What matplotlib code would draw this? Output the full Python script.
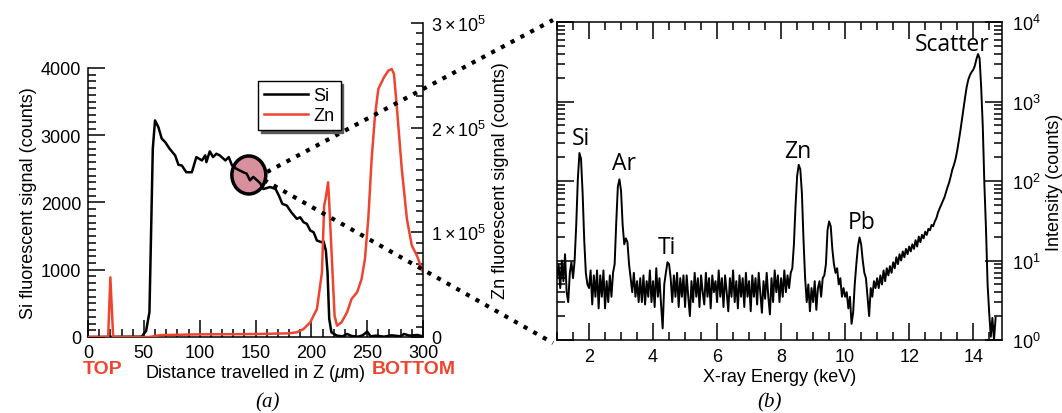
import numpy as np
import matplotlib
matplotlib.use('Agg')
import matplotlib.pyplot as plt
from matplotlib.patches import Ellipse
from matplotlib.lines import Line2D
from matplotlib.ticker import MultipleLocator, LogLocator, NullFormatter

plt.rcParams['font.family'] = ['Liberation Sans', 'DejaVu Sans']
plt.rcParams['mathtext.fontset'] = 'custom'
plt.rcParams['mathtext.rm'] = 'Liberation Sans'
plt.rcParams['mathtext.it'] = 'Liberation Sans:italic'

RED = '#ee4430'
FS = 13

# ---- (a) depth profile: Si (left axis) and Zn (right axis) ----
si_z = [0, 48, 52, 55, 58, 60, 63, 66, 69, 73,
        78, 81, 84, 88, 93, 97, 102, 105, 106, 109,
        112, 115, 118, 123, 126, 129, 133, 139, 142, 145,
        148, 154, 157, 163, 168, 171, 174, 178, 182, 187,
        190, 193, 196, 199, 202, 205, 209, 211, 213, 214.5,
        216, 218, 223, 228, 232, 236, 242, 246, 250, 253,
        258, 265, 272, 280, 283, 288, 295, 300]
si_counts = [0, 5, 90, 370, 2800, 3220, 3120, 2950, 2900, 2800,
             2700, 2560, 2550, 2450, 2450, 2675, 2625, 2700, 2600, 2760,
             2675, 2725, 2700, 2625, 2675, 2550, 2500, 2450, 2430, 2330,
             2380, 2290, 2200, 2230, 2200, 2100, 1980, 1955, 1855, 1757,
             1780, 1707, 1682, 1583, 1558, 1434, 1410, 1420, 1285, 960,
             270, 70, 20, 10, 45, 15, 5, 25, 80, 10,
             20, 5, 25, 10, 45, 20, 30, 10]

zn_z = [0, 18, 20, 22.5, 25, 55, 65, 100, 150, 180,
        187, 193, 199, 205, 209.5, 211.5, 213, 215, 216, 218.4,
        220.8, 223, 227, 232, 236, 241, 245, 248, 251, 254,
        257, 260, 265, 269, 272, 274, 276.7, 281, 285.6, 290,
        294.6, 300]
zn_counts = [0, 0, 57000, 0, 0, 0, 1800, 2500, 2800, 3500,
             4500, 7600, 14000, 26750, 61800, 125500, 133500, 147800, 128700, 74500,
             20400, 10800, 14000, 23600, 36300, 42700, 55400, 74500, 112700, 170000,
             211500, 237000, 248000, 254500, 256000, 251300, 218000, 160500, 112700, 87300,
             77700, 61800]

zn_ticks = [0, 1e5, 2e5, 3e5]
zn_tick_labels = ['0', r'$1\times10^5$', r'$2\times10^5$', r'$3\times10^5$']

# ---- (b) X-ray spectrum, channels of 0.05 keV starting at 1.00 keV ----
channel_start = 1.0
channel_step = 0.05
spectrum_counts = [
    6, 9, 4.5, 10, 5.5, 12, 4, 3, 7, 9.5, 6, 10, 28, 105, 225, 190, 70, 18, 7, 5,       # 1.00-1.95
    4.5, 7.5, 2.8, 6.5, 3.5, 7.5, 2.5, 6.5, 3.5, 7.5, 2.5, 5.5, 3, 6.5, 3.5, 7, 9, 30, 85, 105,  # 2.00-2.95
    75, 28, 16, 19, 17, 9, 6, 4, 7, 3.5, 5.5, 3, 6, 3, 6.5, 2.8, 5.5, 3.5, 7.5, 3,     # 3.00-3.95
    5.5, 2.6, 8, 3.5, 6, 2.8, 1.4, 5, 7, 9.5, 9, 6, 3, 6.5, 3.5, 7, 2.6, 6, 3.5, 6.5,  # 4.00-4.95
    2.6, 6.5, 3.5, 2.0, 5.5, 3, 7, 3.5, 6, 2.6, 6.5, 4, 2.8, 7, 3.5, 6, 2.5, 6.5, 4, 5.5,  # 5.00-5.95
    3, 7.5, 3.5, 6, 2.6, 6.5, 4, 2.3, 6, 3.5, 7.5, 3, 5.5, 2.5, 6.5, 3.5, 6, 2.6, 7, 3.5,  # 6.00-6.95
    5.5, 2.3, 6.5, 3.5, 6, 2.8, 7, 4, 2.2, 5.5, 3.3, 7, 3.5, 2.1, 6, 3, 7.5, 4, 6.5, 3,    # 7.00-7.95
    6, 3.5, 7.5, 4, 6.5, 4.5, 7, 8, 16, 48, 115, 160, 140, 70, 18, 6, 3, 5, 2.3, 4.5,     # 8.00-8.95
    3, 5.5, 2.4, 4.5, 5.5, 3.5, 6, 6.5, 9, 24, 31, 27, 14, 9, 7, 8, 5, 6, 3.5, 4.5,       # 9.00-9.95
    3.5, 4, 2.5, 3.5, 1.6, 2.2, 5, 9, 15, 19.5, 16, 10, 7, 6, 3.5, 2, 4.5, 3.5, 5.5, 4.5,  # 10.00-10.95
    6, 4.5, 6.5, 5, 7.5, 5.5, 8, 6.5, 8.5, 7, 9.5, 8, 11, 9, 12, 10, 13, 11, 14, 12,  # 11.00-11.95
    15, 13, 16, 14, 18, 15, 20, 17, 21, 19, 23, 21, 25, 24, 28, 27, 31, 34, 40, 45,   # 12.00-12.95
    50, 56, 62, 72, 84, 96, 115, 140, 160, 190, 240, 320, 430, 600, 850, 1150, 1550, 1900, 2150, 2350,  # 13.00-13.95
    2500, 2800, 3400, 3950, 3500, 1500, 480, 90, 25, 5, 2.2, 1.1, 1.9, 1.0, 1.9,      # 14.00-14.70
]
energy_kev = channel_start + channel_step * np.arange(len(spectrum_counts))

peak_labels = ['Si', 'Ar', 'Ti', 'Zn', 'Pb', 'Scatter']
peak_label_kev = [1.76, 3.10, 4.43, 8.52, 10.52, 13.33]
peak_label_counts = [350, 167, 14.7, 240, 30.7, 5300]

fig = plt.figure(figsize=(10.62, 4.14), dpi=100)

# left panel
ax1 = fig.add_axes([0.0829, 0.1836, 0.3154, 0.6498])
ax2 = fig.add_axes([0.0829, 0.1836, 0.3154, 0.7585])
ax2.patch.set_visible(False)

l_si, = ax1.plot(si_z, si_counts, color='black', lw=1.8, zorder=4)
ax1.add_patch(Ellipse((144, 2409), 30.4, 565, facecolor='#d8919c', edgecolor='black',
                      lw=2.5, zorder=3, clip_on=False))
ax1.set_xlim(0, 300)
ax1.set_ylim(0, 4000)
ax1.xaxis.set_major_locator(MultipleLocator(50))
ax1.xaxis.set_minor_locator(MultipleLocator(10))
ax1.yaxis.set_major_locator(MultipleLocator(1000))
ax1.yaxis.set_minor_locator(MultipleLocator(100))
ax1.tick_params(which='both', direction='in', top=False, right=False, labelsize=FS, width=1.1, pad=5)
ax1.tick_params(which='major', length=12)
ax1.tick_params(which='minor', length=6)
ax1.spines['top'].set_visible(False)
ax1.spines['right'].set_visible(False)
for s in ('left', 'bottom'):
    ax1.spines[s].set_linewidth(1.1)
ax1.set_ylabel('Si fluorescent signal (counts)', fontsize=FS, labelpad=3)
ax1.set_xlabel(r'Distance travelled in Z ($\mu$m)', fontsize=FS, labelpad=1)

l_zn, = ax2.plot(zn_z, zn_counts, color=RED, lw=1.8)
ax2.set_xlim(0, 300)
ax2.set_ylim(0, 3e5)
ax2.set_yticks(zn_ticks, zn_tick_labels)
ax2.yaxis.set_minor_locator(MultipleLocator(1e4))
ax2.yaxis.tick_right()
ax2.yaxis.set_label_position('right')
ax2.tick_params(axis='x', bottom=False, labelbottom=False, which='both')
ax2.tick_params(axis='y', which='both', direction='in', labelsize=FS, width=1.1, pad=6)
ax2.tick_params(axis='y', which='major', length=9)
ax2.tick_params(axis='y', which='minor', length=5)
for s in ('left', 'top', 'bottom'):
    ax2.spines[s].set_visible(False)
ax2.spines['right'].set_linewidth(1.1)
ax2.set_ylabel('Zn fluorescent signal (counts)', fontsize=FS, labelpad=4)

fig.legend(handles=[l_si, l_zn], labels=['Si', 'Zn'], loc='upper left',
           bbox_to_anchor=(0.243, 0.802), fancybox=False, shadow={'color': '0.35', 'alpha': 1},
           edgecolor='black', framealpha=1, fontsize=FS, handlelength=2.4, handletextpad=0.3,
           borderpad=0.35, labelspacing=0.15, borderaxespad=0)

fig.text(103 / 1062, 1 - 370 / 414, 'TOP', color=RED, fontsize=14, fontweight='bold',
         ha='center', va='center')
fig.text(414 / 1062, 1 - 370 / 414, 'BOTTOM', color=RED, fontsize=14, fontweight='bold',
         ha='center', va='center')
fig.text(268 / 1062, 1 - 403 / 414, '(a)', family='Liberation Serif', style='italic',
         fontsize=15, ha='center', va='center')

# right panel
ax3 = fig.add_axes([0.5245, 0.1763, 0.4190, 0.7681])
ax3.plot(energy_kev, spectrum_counts, color='black', lw=1.4)
ax3.set_yscale('log')
ax3.set_xlim(1.0, 14.9)
ax3.set_ylim(1, 1e4)
ax3.xaxis.set_major_locator(MultipleLocator(2))
ax3.xaxis.set_minor_locator(MultipleLocator(0.5))
ax3.yaxis.set_major_locator(LogLocator(base=10))
ax3.yaxis.set_minor_locator(LogLocator(base=10, subs=np.arange(2, 10)))
ax3.yaxis.set_minor_formatter(NullFormatter())
ax3.tick_params(which='both', direction='in', top=True, right=True, left=True,
                labelleft=False, labelright=True, labelsize=FS, width=1.1)
ax3.tick_params(which='major', length=12)
ax3.tick_params(which='minor', length=6)
ax3.tick_params(axis='x', pad=6)
ax3.tick_params(axis='y', pad=7)
for s in ax3.spines.values():
    s.set_linewidth(1.1)
ax3.yaxis.set_label_position('right')
ax3.set_ylabel('Intensity (counts)', fontsize=FS, labelpad=4)
ax3.set_xlabel('X-ray Energy (keV)', fontsize=FS, labelpad=2)
for lab, e, c in zip(peak_labels, peak_label_kev, peak_label_counts):
    ax3.text(e, c, lab, family='Open Sans', fontsize=16.5, ha='center', va='center')

fig.text(770 / 1062, 1 - 403 / 414, '(b)', family='Liberation Serif', style='italic',
         fontsize=15, ha='center', va='center')

# zoom lines from the circle to the spectrum
fig.add_artist(Line2D([267 / 1062, 553 / 1062], [1 - 173 / 414, 1 - 21 / 414],
                      transform=fig.transFigure, color='black', lw=3, ls=':'))
fig.add_artist(Line2D([264 / 1062, 553 / 1062], [1 - 181 / 414, 1 - 344 / 414],
                      transform=fig.transFigure, color='black', lw=3, ls=':'))

fig.savefig('out.png', dpi=100)
